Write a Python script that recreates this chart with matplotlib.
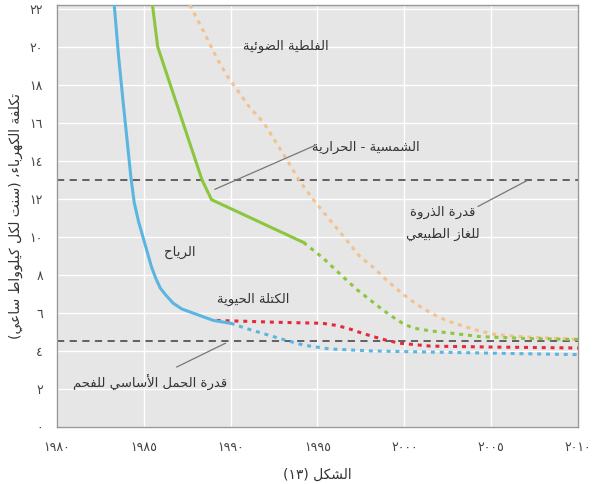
import re
import matplotlib
matplotlib.use("Agg")
import matplotlib.pyplot as plt

plt.rcParams['font.family'] = ['DejaVu Sans']

# --- minimal Arabic shaping (presentation forms + RTL order) ---
FORMS = {
    'ء': (0xFE80, None, None, None),
    'آ': (0xFE81, 0xFE82, None, None),
    'أ': (0xFE83, 0xFE84, None, None),
    'ؤ': (0xFE85, 0xFE86, None, None),
    'إ': (0xFE87, 0xFE88, None, None),
    'ئ': (0xFE89, 0xFE8A, 0xFE8B, 0xFE8C),
    'ا': (0xFE8D, 0xFE8E, None, None),
    'ب': (0xFE8F, 0xFE90, 0xFE91, 0xFE92),
    'ة': (0xFE93, 0xFE94, None, None),
    'ت': (0xFE95, 0xFE96, 0xFE97, 0xFE98),
    'ث': (0xFE99, 0xFE9A, 0xFE9B, 0xFE9C),
    'ج': (0xFE9D, 0xFE9E, 0xFE9F, 0xFEA0),
    'ح': (0xFEA1, 0xFEA2, 0xFEA3, 0xFEA4),
    'خ': (0xFEA5, 0xFEA6, 0xFEA7, 0xFEA8),
    'د': (0xFEA9, 0xFEAA, None, None),
    'ذ': (0xFEAB, 0xFEAC, None, None),
    'ر': (0xFEAD, 0xFEAE, None, None),
    'ز': (0xFEAF, 0xFEB0, None, None),
    'س': (0xFEB1, 0xFEB2, 0xFEB3, 0xFEB4),
    'ش': (0xFEB5, 0xFEB6, 0xFEB7, 0xFEB8),
    'ص': (0xFEB9, 0xFEBA, 0xFEBB, 0xFEBC),
    'ض': (0xFEBD, 0xFEBE, 0xFEBF, 0xFEC0),
    'ط': (0xFEC1, 0xFEC2, 0xFEC3, 0xFEC4),
    'ظ': (0xFEC5, 0xFEC6, 0xFEC7, 0xFEC8),
    'ع': (0xFEC9, 0xFECA, 0xFECB, 0xFECC),
    'غ': (0xFECD, 0xFECE, 0xFECF, 0xFED0),
    'ف': (0xFED1, 0xFED2, 0xFED3, 0xFED4),
    'ق': (0xFED5, 0xFED6, 0xFED7, 0xFED8),
    'ك': (0xFED9, 0xFEDA, 0xFEDB, 0xFEDC),
    'ل': (0xFEDD, 0xFEDE, 0xFEDF, 0xFEE0),
    'م': (0xFEE1, 0xFEE2, 0xFEE3, 0xFEE4),
    'ن': (0xFEE5, 0xFEE6, 0xFEE7, 0xFEE8),
    'ه': (0xFEE9, 0xFEEA, 0xFEEB, 0xFEEC),
    'و': (0xFEED, 0xFEEE, None, None),
    'ى': (0xFEEF, 0xFEF0, None, None),
    'ي': (0xFEF1, 0xFEF2, 0xFEF3, 0xFEF4),
}
LAM_ALEF = {'آ': (0xFEF5, 0xFEF6), 'أ': (0xFEF7, 0xFEF8),
            'إ': (0xFEF9, 0xFEFA), 'ا': (0xFEFB, 0xFEFC)}


def ar(text):
    toks = []
    i = 0
    while i < len(text):
        c = text[i]
        if c == 'ل' and i + 1 < len(text) and text[i + 1] in LAM_ALEF:
            toks.append(('LA', text[i + 1]))
            i += 2
        else:
            toks.append(('C', c))
            i += 1

    def dual(t):
        return t[0] == 'C' and t[1] in FORMS and FORMS[t[1]][2] is not None

    def joinable(t):
        return t[0] == 'LA' or (t[1] in FORMS and t[1] != 'ء')

    out = []
    for k, t in enumerate(toks):
        prev = toks[k - 1] if k > 0 else None
        nxt = toks[k + 1] if k + 1 < len(toks) else None
        jp = prev is not None and dual(prev) and joinable(t)
        if t[0] == 'LA':
            iso, fin = LAM_ALEF[t[1]]
            out.append(chr(fin if jp else iso))
            continue
        c = t[1]
        if c not in FORMS:
            out.append(c)
            continue
        iso, fin, ini, med = FORMS[c]
        jn = dual(t) and nxt is not None and joinable(nxt)
        if jp and jn:
            out.append(chr(med))
        elif jp:
            out.append(chr(fin))
        elif jn:
            out.append(chr(ini))
        else:
            out.append(chr(iso))
    shaped = ''.join(out)
    parts = re.findall(r'[0-9\u0660-\u0669]+|.', shaped)
    parts.reverse()
    swap = {'(': ')', ')': '('}
    return ''.join(swap.get(p, p) for p in parts)


def ar_num(n):
    return ''.join(chr(0x0660 + int(d)) for d in str(n))


# --- data ---
wind_years = [1983.3, 1983.55, 1983.8, 1984.05, 1984.25, 1984.45, 1984.7, 1984.95,
              1985.2, 1985.45, 1985.7, 1985.95, 1986.3, 1986.7, 1987.2, 1987.8, 1989.0, 1990.0]
wind_cost = [22.2, 19.5, 17.2, 15.0, 13.2, 11.8, 10.8, 10.0,
             9.2, 8.4, 7.8, 7.3, 6.9, 6.5, 6.2, 6.0, 5.6, 5.45]
wind_proj_years = [1990.0, 1991.0, 1992.1, 1993.2, 1994.2, 1995.7, 1998.0, 2000.5, 2005.0, 2010.0]
wind_proj_cost = [5.45, 5.15, 4.85, 4.55, 4.3, 4.1, 4.0, 3.95, 3.88, 3.8]

solar_years = [1985.5, 1985.8, 1987.0, 1988.35, 1988.9, 1990.2, 1992.55, 1994.2]
solar_cost = [22.2, 20.0, 16.7, 13.0, 11.95, 11.4, 10.4, 9.7]
solar_proj_years = [1994.2, 1995.3, 1996.0, 1996.7, 1997.3, 1998.0, 1998.7, 1999.3,
                    1999.9, 2000.5, 2001.5, 2002.5, 2004.35, 2007.0, 2010.0]
solar_proj_cost = [9.7, 8.9, 8.3, 7.7, 7.2, 6.7, 6.2, 5.8,
                   5.45, 5.2, 5.05, 4.95, 4.75, 4.65, 4.6]

pv_years = [1987.65, 1988.5, 1989.2, 1989.85, 1990.4, 1991.1, 1991.9, 1993.0, 1994.0,
            1994.8, 1995.7, 1996.7, 1997.4, 1998.2, 1999.0, 1999.9, 2000.7, 2001.5,
            2002.4, 2003.4, 2004.3, 2005.3, 2006.7, 2008.2, 2010.0]
pv_cost = [22.2, 20.7, 19.4, 18.4, 17.7, 16.8, 16.0, 14.4, 12.9,
           11.9, 10.9, 9.8, 9.0, 8.4, 7.7, 7.0, 6.45, 6.0,
           5.6, 5.3, 5.05, 4.85, 4.75, 4.68, 4.6]

bio_years = [1989.2, 1992.8, 1995.3, 1996.0, 1996.7, 1997.5, 1998.2, 1999.0, 1999.75,
             2001.5, 2005.0, 2010.0]
bio_cost = [5.6, 5.5, 5.45, 5.35, 5.2, 4.95, 4.75, 4.55, 4.4,
            4.25, 4.2, 4.15]

gas_peak = 13.0
coal_base = 4.5

y_ticks = [0, 2, 4, 6, 8, 10, 12, 14, 16, 18, 20, 22]
x_ticks = [1980, 1985, 1990, 1995, 2000, 2005, 2010]

# --- figure ---
fig = plt.figure(figsize=(5.99, 4.84), dpi=100)
ax = fig.add_axes([0.095, 0.118, 0.87, 0.872])
ax.set_facecolor('#e6e6e6')
ax.set_xlim(1980, 2010)
ax.set_ylim(0, 22.2)

ax.set_xticks(x_ticks)
ax.set_xticklabels([ar_num(v) for v in x_ticks])
ax.set_yticks(y_ticks)
ax.set_yticklabels([ar_num(v) for v in y_ticks])
ax.tick_params(length=0, labelsize=9, colors='#444444', pad=10)
ax.grid(True, color='white', linewidth=1.0)
ax.set_axisbelow(True)
for sp in ax.spines.values():
    sp.set_color('#999999')
    sp.set_linewidth(1.0)

dot = (0, (1.3, 1.6))
blue, green, orange, red = '#5ab6e0', '#8cc63f', '#f3c18e', '#e5283c'

ax.axhline(gas_peak, color='#555555', lw=1.3, ls=(0, (4, 3)), zorder=2)
ax.axhline(coal_base, color='#555555', lw=1.3, ls=(0, (4, 3)), zorder=2)

ax.plot(pv_years, pv_cost, color=orange, lw=2.2, ls=dot, zorder=3)
ax.plot(solar_years, solar_cost, color=green, lw=2.2, zorder=4)
ax.plot(solar_proj_years, solar_proj_cost, color=green, lw=2.2, ls=dot, zorder=4)
ax.plot(wind_proj_years, wind_proj_cost, color=blue, lw=2.2, ls=dot, zorder=4)
ax.plot(bio_years, bio_cost, color=red, lw=2.2, ls=dot, zorder=5)
ax.plot(wind_years, wind_cost, color=blue, lw=2.2, zorder=6)

tc = '#333333'
fs = 9.5
ax.text(1993.2, 20.0, ar('الفلطية الضوئية'), ha='center', va='center', fontsize=fs, color=tc)
ax.text(1997.8, 14.7, ar('الشمسية - الحرارية'), ha='center', va='center', fontsize=fs, color=tc)
ax.plot([1989.1, 1994.85], [12.5, 14.8], color='#777777', lw=0.9, zorder=7)
ax.text(2002.2, 11.3, ar('قدرة الذروة'), ha='center', va='center', fontsize=fs, color=tc)
ax.text(2002.2, 10.1, ar('للغاز الطبيعي'), ha='center', va='center', fontsize=fs, color=tc)
ax.plot([2007.05, 2004.25], [12.95, 11.6], color='#777777', lw=0.9, zorder=7)
ax.text(1987.1, 9.2, ar('الرياح'), ha='center', va='center', fontsize=fs, color=tc)
ax.text(1991.3, 6.7, ar('الكتلة الحيوية'), ha='center', va='center', fontsize=fs, color=tc)
ax.text(1985.35, 2.3, ar('قدرة الحمل الأساسي للفحم'), ha='center', va='center', fontsize=fs, color=tc)
ax.plot([1986.9, 1989.7], [3.15, 4.4], color='#777777', lw=0.9, zorder=7)

ax.set_ylabel(ar('تكلفة الكهرباء، (سنت لكل كيلوواط ساعي)'), fontsize=10, color=tc, labelpad=5)
ax.set_xlabel(ar('الشكل (١٣)'), fontsize=10, color=tc, labelpad=10)

fig.savefig('out.png', dpi=100)
